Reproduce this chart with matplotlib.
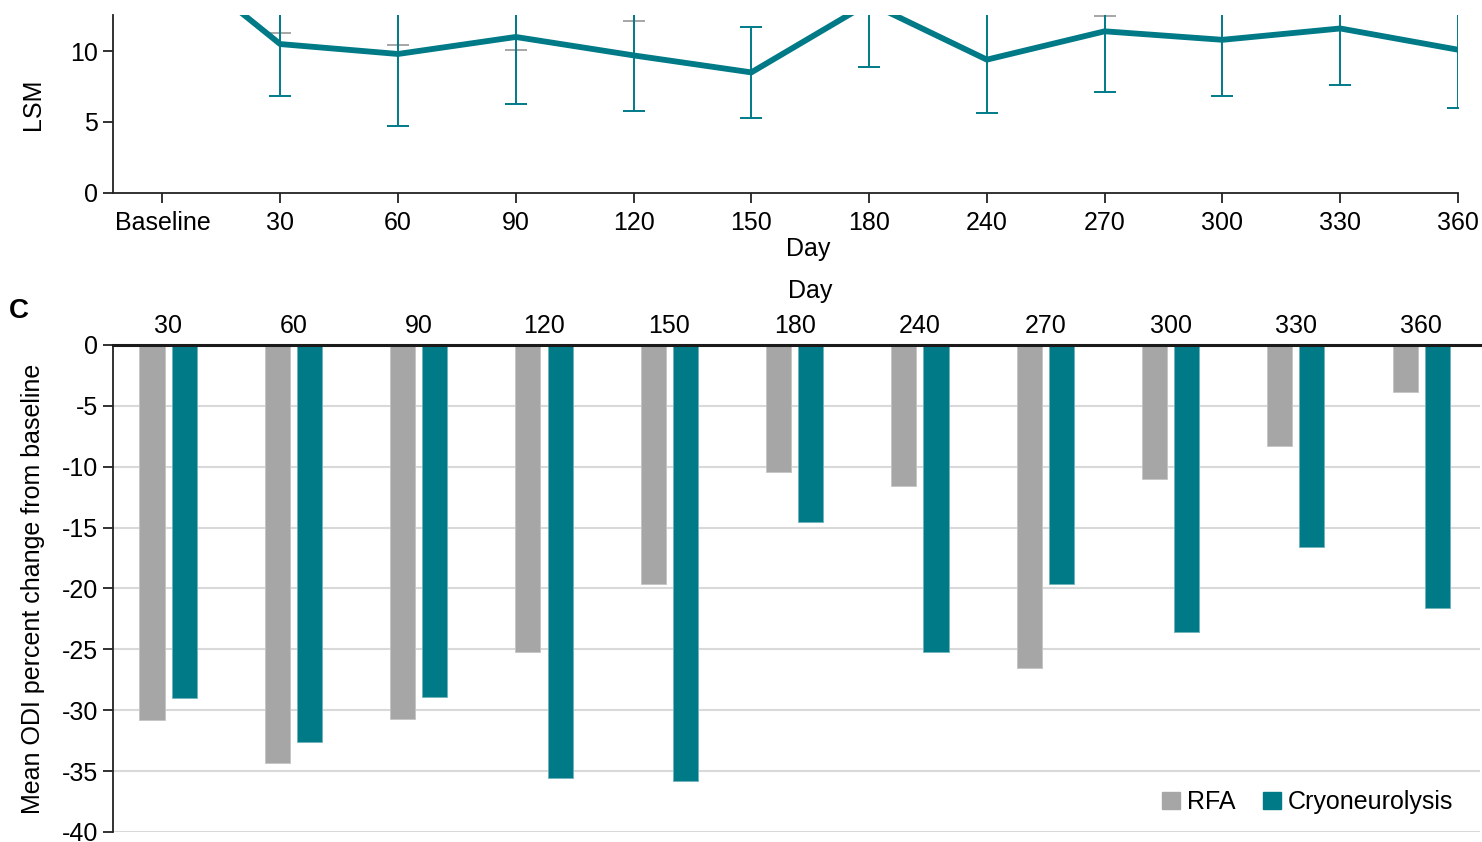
import matplotlib
matplotlib.use("Agg")
import matplotlib.pyplot as plt
from matplotlib.patches import Patch
import numpy as np

plt.rcParams['font.family'] = ['Liberation Sans', 'DejaVu Sans']
plt.rcParams['axes.unicode_minus'] = False

TEAL = '#007A87'
GRAY = '#A6A6A6'
FS = 18

# LSM over time (top panel, upper part cut off)
lsm_days = ['Baseline', '30', '60', '90', '120', '150', '180', '240', '270', '300', '330', '360']
cryo_lsm = [17.2, 10.5, 9.8, 11.0, 9.7, 8.5, 13.4, 9.4, 11.4, 10.8, 11.6, 10.1]
cryo_lo = [17.2, 6.8, 4.7, 6.3, 5.8, 5.3, 8.9, 5.6, 7.1, 6.8, 7.6, 6.0]
rfa_lsm = [17.5, 15.0, 14.6, 14.3, 16.0, 16.8, 17.0, 16.5, 16.4, 17.0, 16.9, 17.2]
rfa_lo = [17.5, 11.3, 10.4, 10.1, 12.1, 13.4, 13.6, 13.2, 12.5, 13.5, 13.3, 13.8]

# ODI percent change from baseline (panel C)
odi_days = ['30', '60', '90', '120', '150', '180', '240', '270', '300', '330', '360']
rfa_odi = [-30.8, -34.3, -30.7, -25.2, -19.6, -10.4, -11.6, -26.5, -11.0, -8.3, -3.9]
cryo_odi = [-29.0, -32.6, -28.9, -35.6, -35.8, -14.5, -25.2, -19.6, -23.6, -16.6, -21.6]

fig = plt.figure(figsize=(14.82, 8.42), dpi=100)

# --- top panel ---
ax1 = fig.add_axes([0.0762, 0.771, 0.9076, 0.211])
x1 = np.arange(len(lsm_days))
rfa_err = np.array(rfa_lsm) - np.array(rfa_lo)
cryo_err = np.array(cryo_lsm) - np.array(cryo_lo)
ax1.errorbar(x1, rfa_lsm, yerr=rfa_err, color=GRAY, lw=4.2, elinewidth=1.4,
             capsize=8, capthick=1.4, zorder=2)
ax1.errorbar(x1, cryo_lsm, yerr=cryo_err, color=TEAL, lw=4.2, elinewidth=1.4,
             capsize=8, capthick=1.4, zorder=3)
ax1.set_xlim(-0.42, 11)
ax1.set_ylim(0, 12.54)
ax1.set_yticks([0, 5, 10])
ax1.set_xticks(x1)
ax1.set_xticklabels(lsm_days)
for s in ['top', 'right']:
    ax1.spines[s].set_visible(False)
for s in ['left', 'bottom']:
    ax1.spines[s].set_linewidth(1.3)
    ax1.spines[s].set_color('#222222')
ax1.tick_params(labelsize=FS, length=7, width=1.3, color='#222222')
ax1.tick_params(axis='x', pad=6)
ax1.set_ylabel('LSM', fontsize=FS, labelpad=18)
ax1.set_xlabel('Day', fontsize=FS)
ax1.xaxis.set_label_coords(0.517, -0.25)

# --- panel C ---
ax2 = fig.add_axes([0.0762, 0.0119, 0.9225, 0.5784])
x2 = np.arange(len(odi_days))
w = 0.2
ax2.bar(x2 - 0.128, rfa_odi, w, color=GRAY, edgecolor='#C4C4C4', lw=0.6, zorder=3, label='RFA')
ax2.bar(x2 + 0.128, cryo_odi, w, color=TEAL, edgecolor='#6FB3BB', lw=0.6, zorder=3,
        label='Cryoneurolysis')
ax2.set_xlim(-0.44, 10.47)
ax2.set_ylim(-40, 0)
ax2.set_yticks(np.arange(-40, 1, 5))
ax2.yaxis.grid(True, color='#D9D9D9', lw=1.5, zorder=0)
ax2.set_axisbelow(True)
ax2.xaxis.tick_top()
ax2.xaxis.set_label_position('top')
ax2.set_xticks(x2)
ax2.set_xticklabels(odi_days)
ax2.tick_params(axis='x', length=0, labelsize=FS, pad=5)
ax2.tick_params(axis='y', labelsize=FS, length=7, width=1.3, color='#222222')
for s in ['bottom', 'right']:
    ax2.spines[s].set_visible(False)
ax2.spines['left'].set_linewidth(1.3)
ax2.spines['left'].set_color('#222222')
ax2.spines['top'].set_linewidth(2.2)
ax2.spines['top'].set_color('#1a1a1a')
ax2.spines['top'].set_zorder(4)
ax2.set_xlabel('Day', fontsize=FS)
ax2.xaxis.set_label_coords(0.51, 1.097)
ax2.set_ylabel('Mean ODI percent change from baseline', fontsize=FS, labelpad=12)

handles = [Patch(color=GRAY, label='RFA'), Patch(color=TEAL, label='Cryoneurolysis')]
ax2.legend(handles=handles, loc='lower right', bbox_to_anchor=(0.997, -0.01), ncol=2,
           frameon=False, fontsize=FS, handlelength=0.7, handleheight=0.7,
           handletextpad=0.3, columnspacing=1.1)

fig.text(0.006, 0.622, 'C', fontsize=20, fontweight='bold')

fig.savefig('out.png', dpi=100, facecolor='white')
